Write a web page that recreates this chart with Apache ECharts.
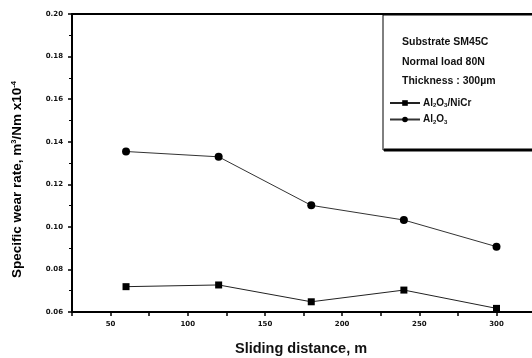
<!DOCTYPE html>
<html>
<head>
<meta charset="utf-8">
<script src="https://cdn.jsdelivr.net/npm/echarts@6/dist/echarts.min.js"></script>
<style>html,body{margin:0;padding:0;background:#fff}#c{width:532px;height:358px}</style>
</head>
<body>
<div id="c"></div>
<script>
const distances = [60, 120, 180, 240, 300];
const niCrRates = [0.0719, 0.0727, 0.0648, 0.0703, 0.0617];
const aluminaRates = [0.1354, 0.1329, 0.1101, 0.1032, 0.0907];
const xTickLabels = [50, 100, 150, 200, 250, 300];
const yTickLabels = [0.06, 0.08, 0.10, 0.12, 0.14, 0.16, 0.18, 0.20];
const infoLines = ['Substrate SM45C', 'Normal load 80N', 'Thickness : 300\u00b5m'];

const chart = echarts.init(document.getElementById('c'));
const FONT = '"Liberation Sans", Arial, sans-serif';
const TICKFONT = '"DejaVu Sans", sans-serif';

const legendRich = {
  a: { fontSize: 10, fontWeight: 'bold', fontFamily: FONT, color: '#111' },
  s: { fontSize: 6, fontWeight: 'bold', fontFamily: FONT, color: '#111', verticalAlign: 'bottom', padding: [5, 0, 0, 0] }
};

const option = {
  animation: false,
  backgroundColor: '#fff',
  grid: { left: 72, top: 14, right: 0, height: 298, show: false, containLabel: false },
  xAxis: [
    {
      type: 'value', min: 25, max: 323, interval: 25,
      axisLine: { show: true, lineStyle: { color: '#000', width: 2 } },
      axisTick: { show: true, length: 4, lineStyle: { color: '#000', width: 1.5 } },
      splitLine: { show: false },
      axisLabel: {
        margin: 9, fontSize: 7, fontWeight: 'bold', fontFamily: TICKFONT, color: '#111',
        showMaxLabel: false,
        formatter: v => xTickLabels.indexOf(Math.round(v)) >= 0 ? String(Math.round(v)) : ''
      }
    },
    {
      type: 'value', position: 'top', min: 25, max: 323,
      axisLine: { show: true, lineStyle: { color: '#000', width: 2 } },
      axisTick: { show: false }, axisLabel: { show: false }, splitLine: { show: false }
    }
  ],
  yAxis: {
    type: 'value', min: 0.06, max: 0.20, interval: 0.02,
    axisLine: { show: true, lineStyle: { color: '#000', width: 2 } },
    axisTick: { show: true, length: 4, lineStyle: { color: '#000', width: 1.5 } },
    minorTick: { show: true, splitNumber: 2, length: 3, lineStyle: { color: '#000', width: 1 } },
    splitLine: { show: false },
    axisLabel: {
      margin: 9, fontSize: 7, fontWeight: 'bold', fontFamily: TICKFONT, color: '#111',
      formatter: v => {
        const m = yTickLabels.find(t => Math.abs(t - v) < 1e-6);
        return m !== undefined ? m.toFixed(2) : '';
      }
    }
  },
  legend: {
    left: 384, top: 93, orient: 'vertical', itemGap: 6, itemWidth: 30, itemHeight: 7,
    data: ['Al2O3/NiCr', 'Al2O3'],
    formatter: name => name === 'Al2O3/NiCr'
      ? '{a|Al}{s|2}{a|O}{s|3}{a|/NiCr}'
      : '{a|Al}{s|2}{a|O}{s|3}',
    textStyle: { rich: legendRich, padding: [0, 0, 0, -2] }
  },
  series: [
    {
      name: 'Al2O3/NiCr', type: 'line',
      data: distances.map((d, i) => [d, niCrRates[i]]),
      symbol: 'rect', symbolSize: 7,
      lineStyle: { color: '#222', width: 1 },
      itemStyle: { color: '#000' }
    },
    {
      name: 'Al2O3', type: 'line',
      data: distances.map((d, i) => [d, aluminaRates[i]]),
      symbol: 'circle', symbolSize: 8,
      lineStyle: { color: '#333', width: 1 },
      itemStyle: { color: '#000' }
    }
  ],
  graphic: [
    { type: 'rect', shape: { x: 383, y: 15, width: 170, height: 135 }, style: { fill: 'rgba(0,0,0,0)', stroke: '#000', lineWidth: 1 }, z: 10 },
    { type: 'line', shape: { x1: 384, y1: 150, x2: 540, y2: 150 }, style: { stroke: '#000', lineWidth: 3 }, z: 10 },
    ...infoLines.map((t, i) => ({
      type: 'text', left: 402, top: 37 + i * 19.5, z: 11,
      style: { text: t, font: 'bold 10.5px ' + FONT, fill: '#111' }
    })),
    {
      type: 'text', left: 235, top: 341, z: 11,
      style: { text: 'Sliding distance, m', font: 'bold 14.5px ' + FONT, fill: '#111' }
    },
    {
      type: 'text', x: 10, y: 278, rotation: Math.PI / 2, z: 11,
      style: {
        text: '{a|Specific wear rate, m}{p|3}{a|/Nm x10}{p|-4}',
        rich: {
          a: { fontSize: 13.5, fontWeight: 'bold', fontFamily: FONT, color: '#111' },
          p: { fontSize: 7.5, fontWeight: 'bold', fontFamily: FONT, color: '#111', verticalAlign: 'top', padding: [0, 0, 6, 0] }
        }
      }
    }
  ]
};
chart.setOption(option);
</script>
</body>
</html>
